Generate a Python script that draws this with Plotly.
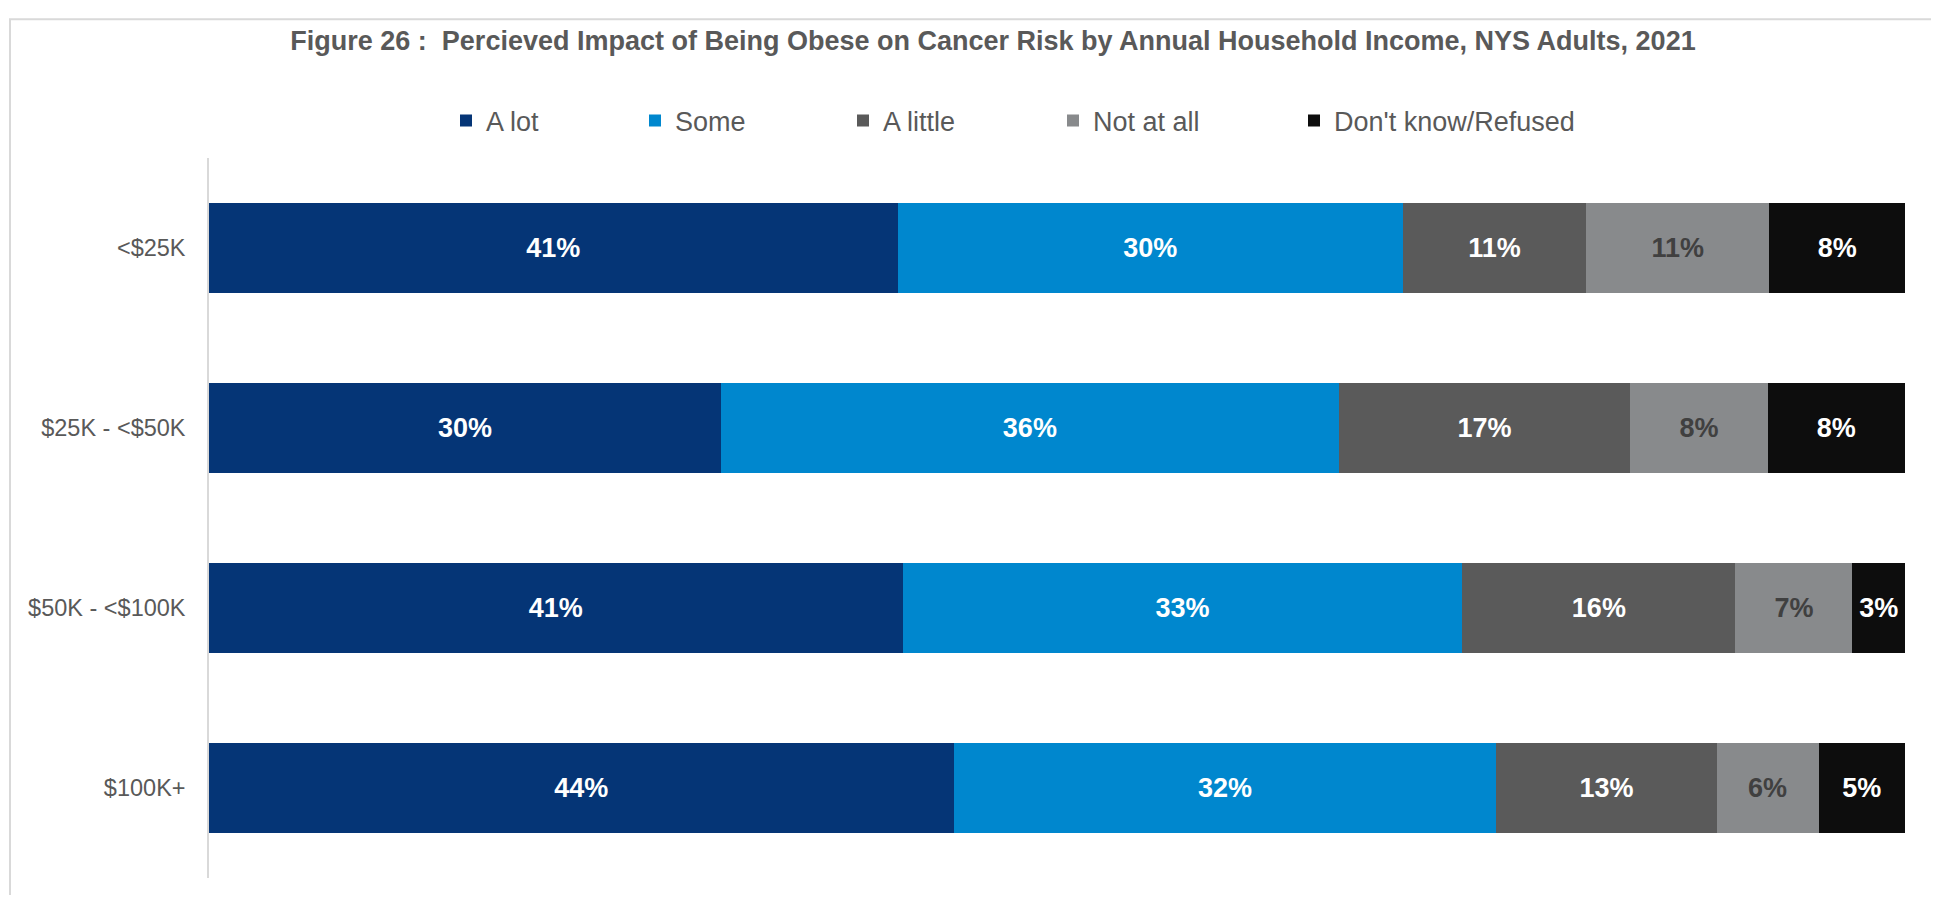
import plotly.graph_objects as go

# Income groups (top to bottom)
categories = ['<$25K', '$25K - <$50K', '$50K - <$100K', '$100K+']

# Share of adults per answer (%)
a_lot = [40.6, 30.2, 40.9, 43.9]
some = [29.8, 36.4, 33.0, 32.0]
a_little = [10.8, 17.2, 16.1, 13.0]
not_at_all = [10.8, 8.1, 6.9, 6.0]
dont_know = [8.0, 8.1, 3.1, 5.1]

series_names = ['A lot', 'Some', 'A little', 'Not at all', "Don't know/Refused"]
series_values = [a_lot, some, a_little, not_at_all, dont_know]
colors = ['#053576', '#0087CE', '#5A5A5A', '#888A8C', '#0D0D0D']
label_colors = ['white', 'white', 'white', '#404040', 'white']

# Legend text start (px, figure coords) for each entry
legend_x = [478, 667, 875, 1085, 1326]

# page body adds an 8px margin, so the figure is a bit smaller than the window
W, H = 1931, 887
font = 'Liberation Sans, Arial, sans-serif'

# plot area in px
left, right, top, bottom = 201, 1897, 141, 870

fig = go.Figure()

for i, name in enumerate(series_names):
	legend_id = 'legend' if i == 0 else 'legend%d' % (i + 1)
	fig.add_trace(
		go.Bar(
			y = categories,
			x = series_values[i],
			name = name,
			orientation = 'h',
			marker = dict(color = colors[i], line = dict(width = 0)),
			texttemplate = '%{x:.0f}%',
			textposition = 'inside',
			insidetextanchor = 'middle',
			textangle = 0,
			constraintext = 'none',
			textfont = dict(family = font, size = 27, color = label_colors[i], weight = 'bold'),
			legend = legend_id,
			hoverinfo = 'skip',
		)
	)

layout_legends = {}
for i in range(len(series_names)):
	legend_id = 'legend' if i == 0 else 'legend%d' % (i + 1)
	layout_legends[legend_id] = dict(
		xref = 'container', yref = 'container',
		x = (legend_x[i] - 40) / W, xanchor = 'left',
		y = 1 - 113 / H, yanchor = 'middle',
		orientation = 'h',
		font = dict(family = font, size = 27, color = '#595959'),
		bgcolor = 'rgba(0,0,0,0)',
		borderwidth = 0,
	)

fig.update_layout(
	width = W, height = H,
	barmode = 'stack',
	bargap = 0.5,
	paper_bgcolor = 'white',
	plot_bgcolor = 'white',
	margin = dict(l = left, r = W - right, t = top, b = H - bottom),
	font = dict(family = font, color = '#595959'),
	title = dict(
		text = 'Figure 26 :  Percieved Impact of Being Obese on Cancer Risk by Annual Household Income, NYS Adults, 2021',
		xref = 'container', yref = 'container',
		x = 985 / W, xanchor = 'center',
		y = 1 - 33 / H, yanchor = 'middle',
		font = dict(family = font, size = 27, color = '#595959', weight = 'bold'),
	),
	xaxis = dict(range = [0, 100], visible = False, showgrid = False, fixedrange = True),
	yaxis = dict(
		autorange = 'reversed',
		showline = True, linecolor = '#D9D9D9', linewidth = 1.5,
		showgrid = False, ticks = '', ticklabelstandoff = 17,
		tickfont = dict(family = font, size = 23.5, color = '#595959'),
	),
	showlegend = True,
	**layout_legends,
)

# Light frame around the chart
pw = right - left
ph = bottom - top
fig.add_shape(
	type = 'rect', xref = 'paper', yref = 'paper',
	x0 = (2 - left) / pw, x1 = (1928 - left) / pw,
	y0 = -0.2, y1 = (bottom - 1) / ph,
	line = dict(color = '#D9D9D9', width = 2),
	layer = 'below',
)

fig.write_html('out.html')
